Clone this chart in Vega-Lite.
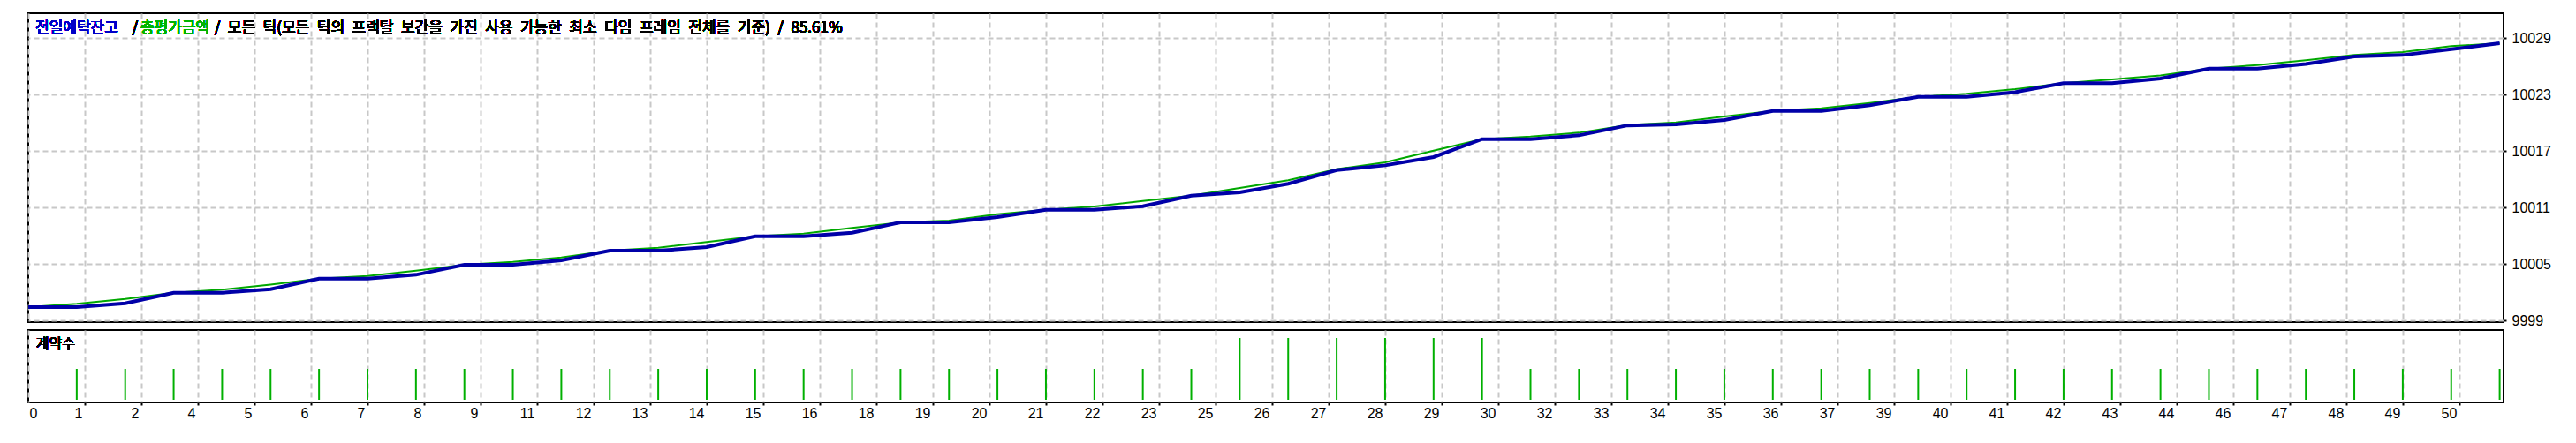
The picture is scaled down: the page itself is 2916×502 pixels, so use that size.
{
  "$schema": "https://vega.github.io/schema/vega-lite/v6.json",
  "background": "white",
  "padding": {"left": 23, "top": 14, "right": 0, "bottom": 0},
  "config": {
    "view": {"stroke": "#000000", "strokeWidth": 2},
    "axis": {"labelFont": "Liberation Sans", "labelFontSize": 16, "labelColor": "#000000", "labelOverlap": false, "labelFlush": false}
  },
  "data": {"values": [
    {"trade": 0, "balance": 10000.00, "equity": 10000.00, "lots": 0},
    {"trade": 1, "balance": 10000.00, "equity": 10000.35, "lots": 0.01},
    {"trade": 2, "balance": 10000.40, "equity": 10000.87, "lots": 0.01},
    {"trade": 3, "balance": 10001.53, "equity": 10001.53, "lots": 0.01},
    {"trade": 4, "balance": 10001.53, "equity": 10001.85, "lots": 0.01},
    {"trade": 5, "balance": 10001.90, "equity": 10002.40, "lots": 0.01},
    {"trade": 6, "balance": 10003.03, "equity": 10003.03, "lots": 0.01},
    {"trade": 7, "balance": 10003.03, "equity": 10003.31, "lots": 0.01},
    {"trade": 8, "balance": 10003.44, "equity": 10003.87, "lots": 0.01},
    {"trade": 9, "balance": 10004.50, "equity": 10004.50, "lots": 0.01},
    {"trade": 10, "balance": 10004.50, "equity": 10004.81, "lots": 0.01},
    {"trade": 11, "balance": 10004.97, "equity": 10005.28, "lots": 0.01},
    {"trade": 12, "balance": 10006.00, "equity": 10006.00, "lots": 0.01},
    {"trade": 13, "balance": 10006.00, "equity": 10006.31, "lots": 0.01},
    {"trade": 14, "balance": 10006.38, "equity": 10006.91, "lots": 0.01},
    {"trade": 15, "balance": 10007.53, "equity": 10007.53, "lots": 0.01},
    {"trade": 16, "balance": 10007.53, "equity": 10007.81, "lots": 0.01},
    {"trade": 17, "balance": 10007.90, "equity": 10008.41, "lots": 0.01},
    {"trade": 18, "balance": 10009.00, "equity": 10009.00, "lots": 0.01},
    {"trade": 19, "balance": 10009.00, "equity": 10009.19, "lots": 0.01},
    {"trade": 20, "balance": 10009.56, "equity": 10009.88, "lots": 0.01},
    {"trade": 21, "balance": 10010.34, "equity": 10010.34, "lots": 0.01},
    {"trade": 22, "balance": 10010.34, "equity": 10010.69, "lots": 0.01},
    {"trade": 23, "balance": 10010.72, "equity": 10011.28, "lots": 0.01},
    {"trade": 24, "balance": 10011.84, "equity": 10011.84, "lots": 0.01},
    {"trade": 25, "balance": 10012.20, "equity": 10012.66, "lots": 0.02},
    {"trade": 26, "balance": 10013.10, "equity": 10013.47, "lots": 0.02},
    {"trade": 27, "balance": 10014.56, "equity": 10014.66, "lots": 0.02},
    {"trade": 28, "balance": 10015.06, "equity": 10015.37, "lots": 0.02},
    {"trade": 29, "balance": 10015.94, "equity": 10016.62, "lots": 0.02},
    {"trade": 30, "balance": 10017.84, "equity": 10017.84, "lots": 0.02},
    {"trade": 31, "balance": 10017.84, "equity": 10018.12, "lots": 0.01},
    {"trade": 32, "balance": 10018.25, "equity": 10018.53, "lots": 0.01},
    {"trade": 33, "balance": 10019.30, "equity": 10019.34, "lots": 0.01},
    {"trade": 34, "balance": 10019.40, "equity": 10019.62, "lots": 0.01},
    {"trade": 35, "balance": 10019.87, "equity": 10020.25, "lots": 0.01},
    {"trade": 36, "balance": 10020.84, "equity": 10020.84, "lots": 0.01},
    {"trade": 37, "balance": 10020.84, "equity": 10021.12, "lots": 0.01},
    {"trade": 38, "balance": 10021.44, "equity": 10021.69, "lots": 0.01},
    {"trade": 39, "balance": 10022.34, "equity": 10022.34, "lots": 0.01},
    {"trade": 40, "balance": 10022.34, "equity": 10022.66, "lots": 0.01},
    {"trade": 41, "balance": 10022.84, "equity": 10023.16, "lots": 0.01},
    {"trade": 42, "balance": 10023.78, "equity": 10023.78, "lots": 0.01},
    {"trade": 43, "balance": 10023.80, "equity": 10024.19, "lots": 0.01},
    {"trade": 44, "balance": 10024.28, "equity": 10024.62, "lots": 0.01},
    {"trade": 45, "balance": 10025.34, "equity": 10025.34, "lots": 0.01},
    {"trade": 46, "balance": 10025.34, "equity": 10025.72, "lots": 0.01},
    {"trade": 47, "balance": 10025.84, "equity": 10026.22, "lots": 0.01},
    {"trade": 48, "balance": 10026.62, "equity": 10026.78, "lots": 0.01},
    {"trade": 49, "balance": 10026.78, "equity": 10027.09, "lots": 0.01},
    {"trade": 50, "balance": 10027.40, "equity": 10027.72, "lots": 0.01},
    {"trade": 51, "balance": 10028.03, "equity": 10028.03, "lots": 0.01}
  ]},
  "spacing": 0,
  "vconcat": [
    {
      "width": 2802,
      "height": 350,
      "layer": [
        {
          "mark": {"type": "line", "color": "#00a800", "strokeWidth": 2},
          "encoding": {
            "x": {"field": "trade", "type": "quantitative", "scale": {"domain": [0, 51.08], "nice": false, "zero": false},
              "axis": {"values": [0, 1.1667, 2.3333, 3.5, 4.6667, 5.8333, 7, 8.1667, 9.3333, 10.5, 11.6667, 12.8333, 14, 15.1667, 16.3333, 17.5, 18.6667, 19.8333, 21, 22.1667, 23.3333, 24.5, 25.6667, 26.8333, 28, 29.1667, 30.3333, 31.5, 32.6667, 33.8333, 35, 36.1667, 37.3333, 38.5, 39.6667, 40.8333, 42, 43.1667, 44.3333, 45.5, 46.6667, 47.8333, 49, 50.1667],
                "labels": false, "ticks": false, "domain": false, "grid": true, "gridColor": "#c8c8c8", "gridDash": [6, 4], "gridWidth": 2, "title": null}},
            "y": {"field": "equity", "type": "quantitative", "scale": {"domain": [9998.41, 10031.22], "nice": false, "zero": false},
              "axis": {"orient": "right", "values": [9998.59, 10004.59, 10010.59, 10016.59, 10022.59, 10028.59], "labelExpr": "format(round(datum.value), 'd')",
                "domain": false, "ticks": true, "tickSize": 3, "tickWidth": 2, "tickColor": "#000000", "labelPadding": 6, "labelAlign": "left", "labelBaseline": "middle",
                "grid": true, "gridColor": "#c8c8c8", "gridDash": [6, 4], "gridWidth": 2, "title": null}}
          }
        },
        {
          "mark": {"type": "line", "color": "#0000a8", "strokeWidth": 4},
          "encoding": {
            "x": {"field": "trade", "type": "quantitative"},
            "y": {"field": "balance", "type": "quantitative"}
          }
        },
        {
          "mark": {"type": "text", "text": "전일예탁잔고", "font": "Noto Sans CJK KR", "fontSize": 17, "color": "#0000c8", "align": "left", "baseline": "middle"},
          "encoding": {"x": {"datum": 0.146}, "y": {"datum": 10029.63}}
        },
        {
          "mark": {"type": "text", "text": "/", "font": "Noto Sans CJK KR", "fontSize": 17, "color": "#000000", "align": "left", "baseline": "middle"},
          "encoding": {"x": {"datum": 2.14}, "y": {"datum": 10029.63}}
        },
        {
          "mark": {"type": "text", "text": "총평가금액", "font": "Noto Sans CJK KR", "fontSize": 17, "color": "#00b400", "align": "left", "baseline": "middle"},
          "encoding": {"x": {"datum": 2.315}, "y": {"datum": 10029.63}}
        },
        {
          "mark": {"type": "text", "text": "/\u2002모든\u2002틱(모든\u2002틱의\u2002프랙탈\u2002보간을\u2002가진\u2002사용\u2002가능한\u2002최소\u2002타임\u2002프레임\u2002전체를\u2002기준)\u2002/\u200285.61%", "font": "Noto Sans CJK KR", "fontSize": 17, "color": "#000000", "align": "left", "baseline": "middle"},
          "encoding": {"x": {"datum": 3.84}, "y": {"datum": 10029.63}}
        }
      ]
    },
    {
      "width": 2802,
      "height": 82,
      "layer": [
        {
          "transform": [{"filter": "datum.lots > 0"}],
          "mark": {"type": "rule", "color": "#00b000", "strokeWidth": 2},
          "encoding": {
            "x": {"field": "trade", "type": "quantitative", "scale": {"domain": [0, 51.08], "nice": false, "zero": false},
              "axis": {"values": [0, 1.1667, 2.3333, 3.5, 4.6667, 5.8333, 7, 8.1667, 9.3333, 10.5, 11.6667, 12.8333, 14, 15.1667, 16.3333, 17.5, 18.6667, 19.8333, 21, 22.1667, 23.3333, 24.5, 25.6667, 26.8333, 28, 29.1667, 30.3333, 31.5, 32.6667, 33.8333, 35, 36.1667, 37.3333, 38.5, 39.6667, 40.8333, 42, 43.1667, 44.3333, 45.5, 46.6667, 47.8333, 49, 50.1667],
                "labelExpr": "format(round(datum.value), 'd')",
                "labelAlign": {"condition": {"test": "datum.value == 0", "value": "left"}, "value": "right"},
                "labelOffset": {"condition": {"test": "datum.value == 0", "value": 1}, "value": -3},
                "tickOpacity": {"condition": {"test": "datum.value == 0", "value": 0}, "value": 1},
                "labelBaseline": "top", "labelPadding": 1,
                "domain": false, "ticks": true, "tickSize": 3, "tickWidth": 2, "tickColor": "#000000",
                "grid": true, "gridColor": "#c8c8c8", "gridDash": [6, 4], "gridWidth": 2, "title": null}},
            "y": {"field": "lots", "type": "quantitative", "scale": {"domain": [-0.00086, 0.02257], "nice": false, "zero": false}, "axis": null},
            "y2": {"datum": 0}
          }
        },
        {
          "mark": {"type": "text", "text": "계약수", "font": "Noto Sans CJK KR", "fontSize": 16, "color": "#000000", "align": "left", "baseline": "middle"},
          "encoding": {"x": {"datum": 0.16}, "y": {"datum": 0.018}}
        }
      ]
    }
  ]
}
